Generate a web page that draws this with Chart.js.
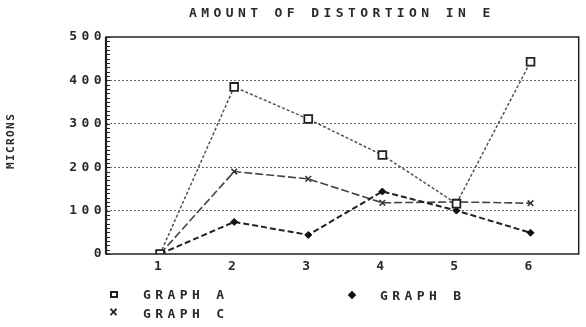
<!DOCTYPE html>
<html>
<head>
<meta charset="utf-8">
<script src="https://cdn.jsdelivr.net/npm/chart.js@4"></script>
<style>
  html, body { margin: 0; padding: 0; background: #fff; }
  #wrap { position: relative; width: 586px; height: 327px; }
  canvas { position: absolute; left: 0; top: 0; }
  .txt {
    position: absolute;
    font-family: "DejaVu Sans Mono", monospace;
    font-size: 13px;
    font-weight: bold;
    line-height: 13px;
    letter-spacing: 4.4px;
    color: #2a2a2a;
    white-space: pre;
  }
  #ytitle {
    font-size: 11px; line-height: 11px; letter-spacing: 1.4px;
    transform-origin: 0 0; transform: rotate(-90deg);
  }
  .mk { position: absolute; box-sizing: border-box; }
</style>
</head>
<body>
<div id="wrap">
  <canvas id="chart" width="586" height="327"></canvas>
  <div class="txt" id="title" style="left:189px; top:6px;">AMOUNT OF DISTORTION IN E</div>
  <div class="txt" id="ytitle" style="left:5px; top:169px;">MICRONS</div>
  <div id="legend"></div>
</div>
<script>
const categories = [1, 2, 3, 4, 5, 6];
const yTicks = [0, 100, 200, 300, 400, 500];
const seriesLabels = ["GRAPH A", "GRAPH B", "GRAPH C"];
const graphA = [0, 385, 311, 228, 116, 443];
const graphB = [0, 74, 44, 144, 100, 49];
const graphC = [0, 190, 173, 118, 120, 117];

const FONT = { family: "DejaVu Sans Mono", size: 13, weight: "bold" };

// wide, dot-matrix looking tick labels
const spacing = {
  id: "spacing",
  beforeLayout(chart) { chart.ctx.letterSpacing = "4.4px"; },
  beforeDraw(chart) { chart.ctx.letterSpacing = "4.4px"; },
};

// frame round the plot + small minor ticks inside the left axis
const frame = {
  id: "frame",
  afterDraw(chart) {
    const { ctx, chartArea: a, scales } = chart;
    ctx.save();
    ctx.strokeStyle = "#222";
    ctx.lineWidth = 1.5;
    ctx.strokeRect(a.left, a.top, a.right - a.left, a.bottom - a.top);
    ctx.lineWidth = 2.2;
    ctx.beginPath();
    ctx.moveTo(a.left, a.top);
    ctx.lineTo(a.left, a.bottom);
    ctx.stroke();
    ctx.lineWidth = 1;
    ctx.beginPath();
    for (let v = 0; v <= 500; v += 10) {
      const y = Math.round(scales.y.getPixelForValue(v)) + 0.5;
      ctx.moveTo(a.left, y);
      ctx.lineTo(a.left + 4, y);
    }
    ctx.stroke();
    ctx.restore();
  },
};

const ctx = document.getElementById("chart").getContext("2d");
const chart = new Chart(ctx, {
  type: "line",
  data: {
    datasets: [
      {
        label: seriesLabels[0],
        data: categories.map((c, i) => ({ x: c, y: graphA[i] })),
        borderColor: "#555",
        borderWidth: 1.5,
        borderDash: [3, 2],
        pointStyle: "rect",
        pointRadius: 5.5,
        pointBorderWidth: 1.8,
        pointBorderColor: "#222",
        pointBackgroundColor: "#fff",
      },
      {
        label: seriesLabels[1],
        data: categories.map((c, i) => ({ x: c, y: graphB[i] })),
        borderColor: "#222",
        borderWidth: 2,
        borderDash: [6, 3],
        pointStyle: "rectRot",
        pointRadius: 3.5,
        pointBorderWidth: 1,
        pointBorderColor: "#111",
        pointBackgroundColor: "#111",
      },
      {
        label: seriesLabels[2],
        data: categories.map((c, i) => ({ x: c, y: graphC[i] })),
        borderColor: "#444",
        borderWidth: 1.6,
        borderDash: [8, 3],
        pointStyle: "crossRot",
        pointRadius: 4,
        pointBorderWidth: 1.5,
        pointBorderColor: "#333",
      },
    ],
  },
  options: {
    responsive: false,
    animation: false,
    devicePixelRatio: 1,
    layout: { padding: { top: 37, right: 6, bottom: 48, left: 0 } },
    plugins: {
      legend: { display: false },
      title: { display: false },
      tooltip: { enabled: false },
    },
    scales: {
      x: {
        type: "linear",
        min: 0.27,
        max: 6.65,
        afterBuildTicks: (scale) => {
          scale.ticks = categories.map((v) => ({ value: v }));
        },
        afterFit: (scale) => { scale.height = 25; },
        grid: { display: false, drawTicks: false },
        border: { display: false },
        ticks: {
          font: FONT,
          color: "#2a2a2a",
          padding: 5,
          maxRotation: 0,
          autoSkip: false,
        },
      },
      y: {
        min: 0,
        max: 500,
        afterBuildTicks: (scale) => {
          scale.ticks = yTicks.map((v) => ({ value: v }));
        },
        afterFit: (scale) => { scale.width = 106; },
        grid: {
          drawTicks: false,
          color: (c) => (c.tick && c.tick.value > 0 && c.tick.value < 500 ? "#666" : "rgba(0,0,0,0)"),
          lineWidth: 1,
        },
        border: { display: false, dash: [2, 2] },
        ticks: {
          font: FONT,
          color: "#2a2a2a",
          padding: 0,
        },
      },
    },
  },
  plugins: [spacing, frame],
});

// legend laid out as in the picture: A and B on one row, C below
const legend = document.getElementById("legend");
const legendPos = [
  { x: 110, y: 294, tx: 143, kind: "square" },
  { x: 349, y: 295, tx: 380, kind: "diamond" },
  { x: 110, y: 313, tx: 143, kind: "cross" },
];
seriesLabels.forEach((lab, i) => {
  const p = legendPos[i];
  const t = document.createElement("div");
  t.className = "txt";
  t.textContent = lab;
  t.style.left = p.tx + "px";
  t.style.top = p.y - 6 + "px";
  legend.appendChild(t);
  const m = document.createElement("div");
  m.className = "mk";
  if (p.kind === "square") {
    Object.assign(m.style, { left: p.x + "px", top: p.y - 3 + "px", width: "8px", height: "7px", border: "2px solid #222" });
  } else if (p.kind === "diamond") {
    Object.assign(m.style, { left: p.x + "px", top: p.y - 3 + "px", width: "6px", height: "6px", background: "#111", transform: "rotate(45deg)" });
  } else {
    m.className = "txt";
    m.textContent = "×";
    Object.assign(m.style, { left: p.x - 1 + "px", top: p.y - 7 + "px", fontSize: "15px", letterSpacing: "0", color: "#222" });
  }
  legend.appendChild(m);
});
</script>
</body>
</html>
